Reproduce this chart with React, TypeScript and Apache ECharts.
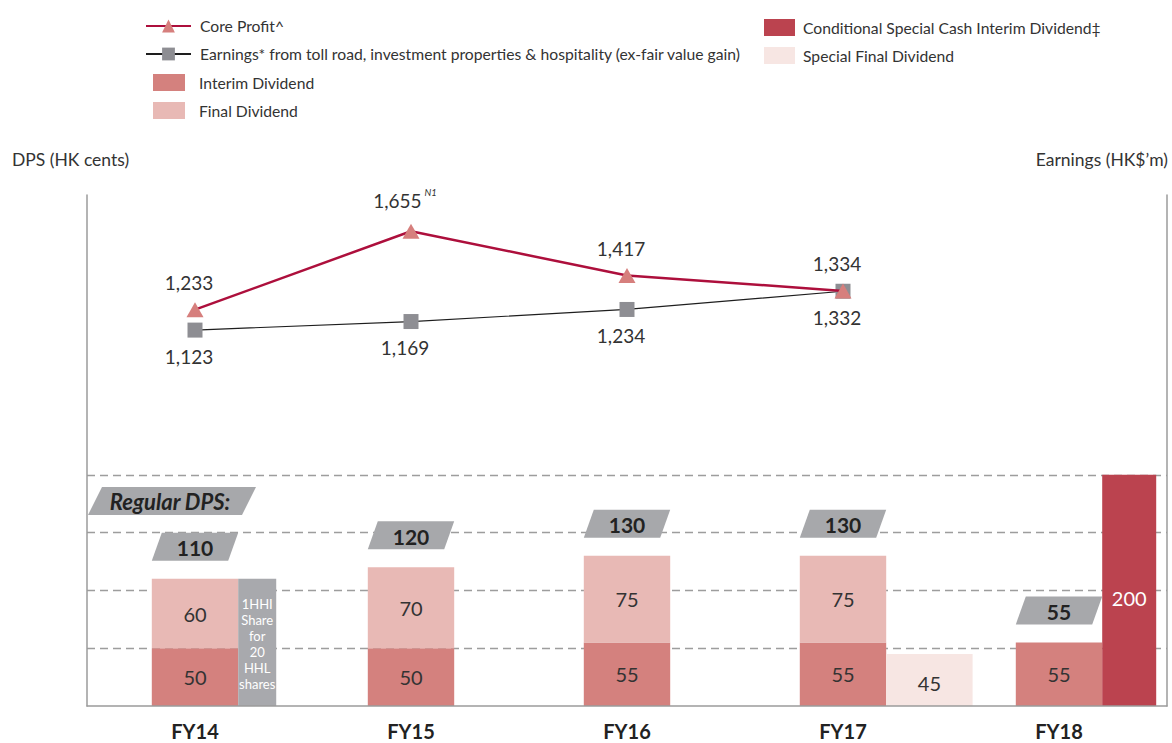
import React, { useEffect, useRef } from "react";
import * as echarts from "echarts";

const categories = ["FY14", "FY15", "FY16", "FY17", "FY18"];
const interimDividend = [50, 50, 55, 55, 55];
const finalDividend: (number | null)[] = [60, 70, 75, 75, null];
const regularTotals = [110, 120, 130, 130, 55];
const coreProfit: (number | null)[] = [1233, 1655, 1417, 1334, null];
const earnings: (number | null)[] = [1123, 1169, 1234, 1332, null];
const hhiShare = [[0, 110]];
const hhiText = "1HHI\nShare\nfor\n20\nHHL\nshares";
const specialFinal = [[3, 45]];
const conditionalSpecial = [[4, 200]];
const gridLevels = [50, 100, 150, 200];

const FONT = "Lato, 'Noto Sans', sans-serif";
const MAIN_BAR = 0.4;
const C = {
  interim: "#d4817e",
  final: "#e8b9b5",
  conditional: "#bb434f",
  special: "#f7e6e3",
  hhi: "#a8a9ad",
  tag: "#a7a8ab",
  core: "#ad0f3c",
  coreMark: "#d67f7d",
  earn: "#1e1e1e",
  earnMark: "#8e8e93",
  text: "#333333",
};

function extraSeries(name: string, data: number[][], color: string, widthRatio: number, labelText: ((v: number) => string), labelColor: string, fontSize: number, lineHeight: number, dy: number) {
  return {
    name,
    type: "custom",
    coordinateSystem: "cartesian2d",
    xAxisIndex: 0,
    yAxisIndex: 0,
    itemStyle: { color },
    encode: { x: 0, y: 1 },
    data,
    z: 4,
    renderItem: (params: any, api: any) => {
      const cat = api.value(0);
      const v = api.value(1);
      const base = api.coord([cat, 0]);
      const top = api.coord([cat, v]);
      const band = api.size([1, 0])[0];
      const x0 = base[0] + (band * MAIN_BAR) / 2;
      const w = band * widthRatio;
      return {
        type: "group",
        children: [
          { type: "rect", shape: { x: x0, y: top[1], width: w, height: base[1] - top[1] }, style: { fill: color } },
          {
            type: "text",
            style: {
              text: labelText(v),
              x: x0 + w / 2,
              y: (top[1] + base[1]) / 2 + dy,
              align: "center",
              verticalAlign: "middle",
              fill: labelColor,
              fontSize,
              lineHeight,
              fontFamily: FONT,
            },
          },
        ],
      };
    },
  };
}

export default function App() {
  const ref = useRef<HTMLDivElement>(null);
  useEffect(() => {
    if (!ref.current) return;
    const chart = echarts.init(ref.current, null, { renderer: "svg" });
    const legendText = { fontSize: 15.7, color: C.text, fontFamily: FONT };
    const option: any = {
      animation: false,
      textStyle: { fontFamily: FONT },
      grid: { left: 87, right: 5, top: 195, bottom: 37 },
      legend: [
        {
          orient: "vertical",
          left: 145,
          top: 18,
          padding: 0,
          itemWidth: 45,
          itemHeight: 16,
          itemGap: 12,
          selectedMode: false,
          textStyle: { ...legendText, padding: [0, 0, 0, 4] },
          data: ["Core Profit^", "Earnings* from toll road, investment properties & hospitality (ex-fair value gain)"],
        },
        {
          orient: "vertical",
          left: 153,
          top: 74,
          padding: 0,
          itemWidth: 32,
          itemHeight: 17,
          itemGap: 11,
          icon: "rect",
          selectedMode: false,
          textStyle: { ...legendText, padding: [0, 0, 0, 9] },
          data: ["Interim Dividend", "Final Dividend"],
        },
        {
          orient: "vertical",
          left: 764,
          top: 19,
          padding: 0,
          itemWidth: 31,
          itemHeight: 17,
          itemGap: 11,
          icon: "rect",
          selectedMode: false,
          textStyle: { ...legendText, padding: [0, 0, 0, 3] },
          data: ["Conditional Special Cash Interim Dividend\u2021", "Special Final Dividend"],
        },
      ],
      xAxis: {
        type: "category",
        data: categories,
        axisTick: { show: false },
        axisLine: { lineStyle: { color: "#9b9b9b", width: 1.5 } },
        axisLabel: { fontWeight: "bold", fontSize: 20, color: "#222", margin: 15, fontFamily: FONT },
        z: 8,
      },
      yAxis: [
        {
          type: "value",
          min: 0,
          max: 442,
          axisLine: { show: true, lineStyle: { color: "#9b9b9b", width: 1.5 } },
          axisLabel: { show: false },
          axisTick: { show: false },
          splitLine: { show: false },
        },
        {
          type: "value",
          position: "right",
          min: -900,
          max: 1850,
          axisLine: { show: true, lineStyle: { color: "#9b9b9b", width: 1.5 } },
          axisLabel: { show: false },
          axisTick: { show: false },
          splitLine: { show: false },
        },
      ],
      graphic: [
        { type: "text", left: 12, top: 150, style: { text: "DPS (HK cents)", fontSize: 17.5, fill: C.text, fontFamily: FONT } },
        { type: "text", right: 4, top: 150, style: { text: "Earnings (HK$\u2019m)", fontSize: 17.5, fill: C.text, fontFamily: FONT } },
        {
          type: "polygon",
          shape: { points: [[88, 515], [102, 487], [256, 487], [242, 515]] },
          style: { fill: C.tag },
          z: 10,
        },
        {
          type: "text",
          x: 170,
          y: 501,
          style: { text: "Regular DPS:", fontSize: 22, fontWeight: "bold", fontStyle: "italic", fill: "#222", align: "center", verticalAlign: "middle", fontFamily: FONT },
          z: 11,
        },
      ],
      series: [
        {
          type: "line",
          name: "grid",
          yAxisIndex: 0,
          data: categories.map(() => null),
          z: 0,
          zlevel: 0,
          silent: true,
          markLine: {
            silent: true,
            z: 0,
            symbol: ["none", "none"],
            label: { show: false },
            lineStyle: { type: [8, 5], color: "#9d9d9d", width: 1.3 },
            data: gridLevels.map((v) => ({ yAxis: v })),
          },
        },
        {
          name: "Interim Dividend",
          type: "bar",
          stack: "dps",
          barWidth: "40%",
          data: interimDividend,
          itemStyle: { color: C.interim },
          z: 3,
          label: { show: true, position: "inside", fontSize: 20, color: C.text, fontFamily: FONT },
        },
        {
          name: "Final Dividend",
          type: "bar",
          stack: "dps",
          barWidth: "40%",
          data: finalDividend,
          itemStyle: { color: C.final },
          z: 3,
          label: { show: true, position: "inside", fontSize: 20, color: C.text, fontFamily: FONT },
        },
        extraSeries("HHI", hhiShare, C.hhi, 0.176, () => hhiText, "#ffffff", 13, 16, 2),
        extraSeries("Special Final Dividend", specialFinal, C.special, 0.4, (v) => String(v), C.text, 20, 22, 3),
        extraSeries("Conditional Special Cash Interim Dividend\u2021", conditionalSpecial, C.conditional, 0.25, (v) => String(v), "#ffffff", 20, 22, 8),
        {
          name: "totals",
          type: "custom",
          coordinateSystem: "cartesian2d",
          yAxisIndex: 0,
          encode: { x: 0, y: 1 },
          data: regularTotals.map((v, i) => [i, v]),
          z: 5,
          renderItem: (params: any, api: any) => {
            const p = api.coord([api.value(0), api.value(1)]);
            const band = api.size([1, 0])[0];
            const bw = band * MAIN_BAR;
            const xl = p[0] - bw / 2;
            const xr = p[0] + bw / 2;
            const yb = p[1] - 18;
            const yt = yb - 28;
            const s = 10;
            return {
              type: "group",
              children: [
                { type: "polygon", shape: { points: [[xl, yb], [xl + s, yt], [xr, yt], [xr - s, yb]] }, style: { fill: C.tag } },
                {
                  type: "text",
                  style: {
                    text: String(api.value(1)),
                    x: p[0],
                    y: (yb + yt) / 2 + 1,
                    align: "center",
                    verticalAlign: "middle",
                    fontSize: 21,
                    fontWeight: "bold",
                    fill: "#222",
                    fontFamily: FONT,
                  },
                },
              ],
            };
          },
        },
        {
          name: "Earnings* from toll road, investment properties & hospitality (ex-fair value gain)",
          type: "line",
          yAxisIndex: 1,
          data: earnings,
          symbol: "rect",
          symbolSize: 15,
          lineStyle: { color: C.earn, width: 1.2 },
          itemStyle: { color: C.earnMark },
          z: 6,
          label: {
            show: true,
            position: "bottom",
            distance: 9,
            offset: [-6, 0],
            fontSize: 19,
            color: C.text,
            fontFamily: FONT,
            formatter: (p: any) => p.value.toLocaleString("en-US"),
          },
        },
        {
          name: "Core Profit^",
          type: "line",
          yAxisIndex: 1,
          data: coreProfit,
          symbol: "triangle",
          symbolSize: [17, 15],
          lineStyle: { color: C.core, width: 2.5 },
          itemStyle: { color: C.coreMark },
          z: 7,
          label: {
            show: true,
            position: "top",
            distance: 10,
            offset: [-6, 0],
            fontSize: 19,
            color: C.text,
            fontFamily: FONT,
            formatter: (p: any) =>
              p.dataIndex === 1
                ? "{v|" + p.value.toLocaleString("en-US") + "}{s|N1}"
                : p.value.toLocaleString("en-US"),
            rich: {
              v: { fontSize: 19, color: C.text, fontFamily: FONT },
              s: { fontSize: 9.5, fontStyle: "italic", color: C.text, fontFamily: FONT, padding: [0, 0, 16, 3] },
            },
          },
        },
      ],
    };
    chart.setOption(option);
    return () => chart.dispose();
  }, []);
  return <div ref={ref} style={{ position: "absolute", left: 0, top: 0, width: 1172, height: 743 }} />;
}
